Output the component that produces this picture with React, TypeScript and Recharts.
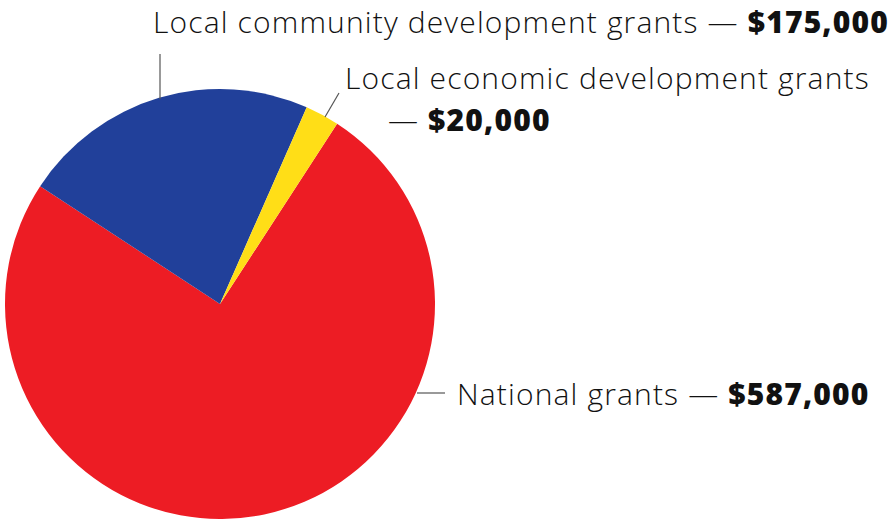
import * as React from "react";
import { PieChart, Pie, Cell } from "recharts";

const categories = [
  "National grants",
  "Local community development grants",
  "Local economic development grants",
];
const amounts = [587000, 175000, 20000];
const sliceColors = ["#ED1C24", "#21409A", "#FFDE17"];

const data = categories.map((name, i) => ({ name, value: amounts[i] }));

const FONT = "'Open Sans', Lato, sans-serif";
const FONT_SIZE = 30;
const SPACING = 1.15;
const LINE_COLOR = "#555";

const money = (v: number) => "$" + v.toLocaleString("en-US");

const textProps = {
  fontFamily: FONT,
  fontSize: FONT_SIZE,
  fontWeight: 300,
  letterSpacing: SPACING,
  fill: "#111",
};

function SliceLabel(props: any) {
  const { cx, cy, index } = props;
  const name = categories[index];
  const value = money(amounts[index]);

  if (index === 0) {
    // national grants, label to the right
    return (
      <g>
        <line x1={cx + 197} y1={cy + 89} x2={cx + 225} y2={cy + 89} stroke={LINE_COLOR} strokeWidth={1.2} />
        <text x={cx + 237} y={cy + 101} {...textProps}>
          {name} — <tspan fontWeight={800}>{value}</tspan>
        </text>
      </g>
    );
  }
  if (index === 1) {
    return (
      <g>
        <line x1={cx - 60} y1={cy - 205} x2={cx - 60} y2={cy - 250} stroke={LINE_COLOR} strokeWidth={1.2} />
        <text x={cx - 67} y={cy - 271} {...textProps}>
          {name} — <tspan fontWeight={800}>{value}</tspan>
        </text>
      </g>
    );
  }
  return (
    <g>
      <line x1={cx + 105} y1={cy - 187} x2={cx + 119} y2={cy - 211} stroke={LINE_COLOR} strokeWidth={1.2} />
      <text x={cx + 125} y={cy - 215} {...textProps}>
        {name}
      </text>
      <text x={cx + 168} y={cy - 173} {...textProps}>
        — <tspan fontWeight={800}>{value}</tspan>
      </text>
    </g>
  );
}

export default function App() {
  return (
    <div style={{ position: "absolute", left: 0, top: 0, width: 896, height: 519, background: "#fff" }}>
      <PieChart width={896} height={519} margin={{ top: 0, right: 0, bottom: 0, left: 0 }}>
        <Pie
          data={data}
          dataKey="value"
          nameKey="name"
          cx={220}
          cy={304}
          outerRadius={215}
          startAngle={57}
          endAngle={-303}
          stroke="none"
          label={SliceLabel}
          labelLine={false}
          isAnimationActive={false}
        >
          {data.map((d, i) => (
            <Cell key={d.name} fill={sliceColors[i]} />
          ))}
        </Pie>
      </PieChart>
    </div>
  );
}
